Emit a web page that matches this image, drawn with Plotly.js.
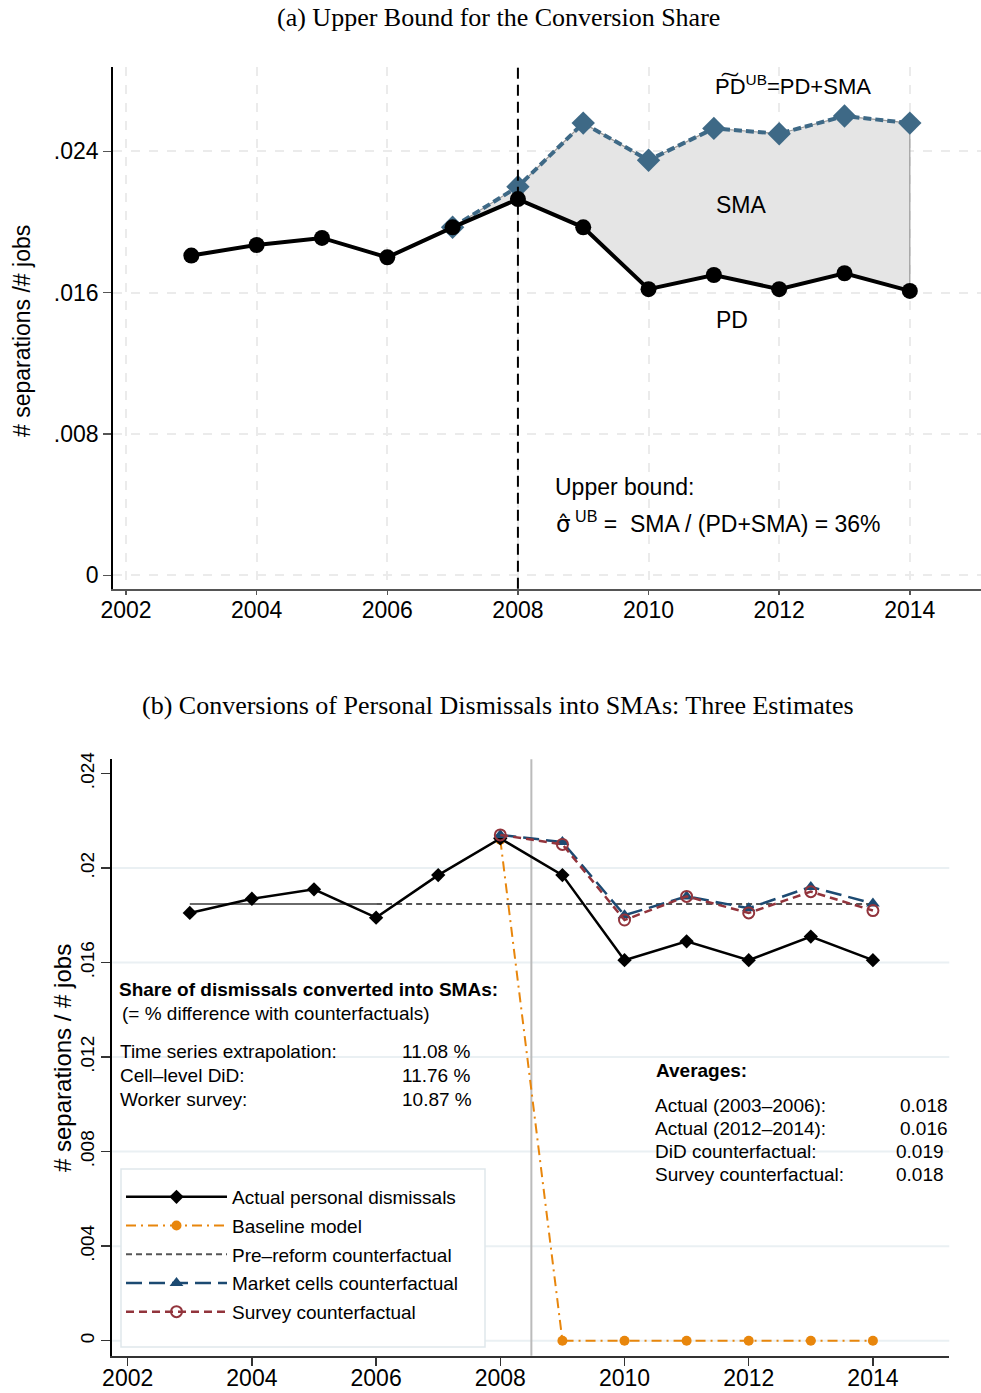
<!DOCTYPE html>
<html>
<head>
<meta charset="utf-8">
<script src="https://cdn.plot.ly/plotly-3.0.1.min.js"></script>
<style>html,body{margin:0;padding:0;background:#fff}#chart{width:981px;height:1393px}</style>
</head>
<body>
<div id="chart"></div>
<script>
// ---------- Panel (a) data ----------
const years = [2003, 2004, 2005, 2006, 2007, 2008, 2009, 2010, 2011, 2012, 2013, 2014];
const pdRate = [0.0181, 0.0187, 0.0191, 0.0180, 0.0197, 0.0213, 0.0197, 0.0162, 0.0170, 0.0162, 0.0171, 0.0161];
const ubYears = [2007, 2008, 2009, 2010, 2011, 2012, 2013, 2014];
const pdUB = [0.0197, 0.0220, 0.0256, 0.0235, 0.0253, 0.0250, 0.0260, 0.0256];
const topYTicks = [0, 0.008, 0.016, 0.024];
const topYLabels = ['0', '.008', '.016', '.024'];
const xTicks = [2002, 2004, 2006, 2008, 2010, 2012, 2014];
const reformYearA = 2008;

// ---------- Panel (b) data ----------
const actualPD = [0.0181, 0.0187, 0.0191, 0.0179, 0.0197, 0.02125, 0.0197, 0.0161, 0.0169, 0.0161, 0.0171, 0.0161];
const cfYears = [2008, 2009, 2010, 2011, 2012, 2013, 2014];
const baseline = [0.0212, 0, 0, 0, 0, 0, 0];
const marketCF = [0.0214, 0.0211, 0.0180, 0.0188, 0.0183, 0.0192, 0.0185];
const surveyCF = [0.0214, 0.0210, 0.0178, 0.0188, 0.0181, 0.0190, 0.0182];
const preReformLevel = 0.01848;
const preSolidYears = [2003, 2006];
const preDashYears = [2006, 2014];
const botYTicks = [0, 0.004, 0.008, 0.012, 0.016, 0.02, 0.024];
const botYLabels = ['0', '.004', '.008', '.012', '.016', '.02', '.024'];
const reformLineB = 2008.5;

const shareLabels = ['Time series extrapolation:', 'Cell\u2013level DiD:', 'Worker survey:'];
const shareValues = ['11.08 %', '11.76 %', '10.87 %'];
const avgLabels = ['Actual (2003\u20132006):', 'Actual (2012\u20132014):', 'DiD counterfactual:', 'Survey counterfactual:'];
const avgValues = ['0.018', '0.016', '0.019', '0.018'];

const W = 981, H = 1393;
const px = v => v / W;
const py = v => 1 - v / H;
const SANS = 'Liberation Sans, Arial, sans-serif';
const SERIF = 'Liberation Serif, Times New Roman, serif';

// fill polygon between PD and UB (2007-2014)
const pdSeg = years.map((y, i) => [y, pdRate[i]]).filter(d => d[0] >= ubYears[0]);
const polyX = ubYears.concat(pdSeg.map(d => d[0]).reverse());
const polyY = pdUB.concat(pdSeg.map(d => d[1]).reverse());

const traces = [
  { x: polyX, y: polyY, xaxis: 'x', yaxis: 'y', mode: 'lines', fill: 'toself',
    fillcolor: '#e5e5e5', line: { color: '#9a9a9a', width: 1.2 }, showlegend: false, hoverinfo: 'skip' },
  { x: ubYears, y: pdUB, xaxis: 'x', yaxis: 'y', mode: 'lines+markers',
    line: { color: '#3e6986', width: 4, dash: '8px,4px' },
    marker: { symbol: 'diamond', size: 18, color: '#3e6986' }, showlegend: false },
  { x: years, y: pdRate, xaxis: 'x', yaxis: 'y', mode: 'lines+markers',
    line: { color: '#000', width: 4 },
    marker: { symbol: 'circle', size: 16, color: '#000' }, showlegend: false },

  // panel b
  { x: preSolidYears, y: preSolidYears.map(() => preReformLevel), xaxis: 'x2', yaxis: 'y2', mode: 'lines',
    line: { color: '#6a6a6a', width: 2 }, showlegend: false },
  { x: preDashYears, y: preDashYears.map(() => preReformLevel), xaxis: 'x2', yaxis: 'y2', mode: 'lines',
    name: 'Pre\u2013reform counterfactual', legendrank: 3, legendgroup: 'g3',
    line: { color: '#555', width: 2, dash: '6px,4px' } },
  { x: cfYears, y: baseline, xaxis: 'x2', yaxis: 'y2', mode: 'lines+markers',
    name: 'Baseline model', legendrank: 2, legendgroup: 'g2',
    line: { color: '#e8860c', width: 2, dash: '10px,5px,2px,5px' },
    marker: { symbol: 'circle', size: 10, color: '#e8860c' } },
  { x: years, y: actualPD, xaxis: 'x2', yaxis: 'y2', mode: 'lines+markers',
    name: 'Actual personal dismissals', legendrank: 1, legendgroup: 'g1',
    line: { color: '#000', width: 2.5 },
    marker: { symbol: 'diamond', size: 11, color: '#000' } },
  { x: cfYears, y: marketCF, xaxis: 'x2', yaxis: 'y2', mode: 'lines+markers',
    name: 'Market cells counterfactual', legendrank: 4, legendgroup: 'g4',
    line: { color: '#1c4a72', width: 2.5, dash: '16px,7px' },
    marker: { symbol: 'triangle-up', size: 12, color: '#1c4a72' } },
  { x: cfYears, y: surveyCF, xaxis: 'x2', yaxis: 'y2', mode: 'lines+markers',
    name: 'Survey counterfactual', legendrank: 5, legendgroup: 'g5',
    line: { color: '#92343c', width: 2.5, dash: '8px,5px' },
    marker: { symbol: 'circle-open', size: 11, color: '#92343c', line: { width: 2, color: '#92343c' } } }
];

const ann = [];
function txt(text, x, y, size, opts) {
  ann.push(Object.assign({ text: text, xref: 'paper', yref: 'paper', x: px(x), y: py(y),
    xanchor: 'left', yanchor: 'middle', showarrow: false,
    font: { family: SANS, size: size, color: '#000' } }, opts || {}));
}
// titles
txt('(a) Upper Bound for the Conversion Share', 498, 17, 26, { xanchor: 'center', font: { family: SERIF, size: 26, color: '#000' } });
txt('(b) Conversions of Personal Dismissals into SMAs: Three Estimates', 498, 705, 26, { xanchor: 'center', font: { family: SERIF, size: 26, color: '#000' } });
// y titles
txt('# separations /# jobs', 22, 331, 23, { xanchor: 'center', textangle: -90 });
txt('# separations / # jobs', 62, 1058, 24, { xanchor: 'center', textangle: -90 });
// panel a labels
txt('P\u0360D<sup>UB</sup>=PD+SMA', 713, 85, 22);
txt('SMA', 714, 205, 23);
txt('PD', 714, 320, 23);
txt('Upper bound:', 553, 487, 23);
txt('<span style="font-family:DejaVu Sans">\u03c3\u0302</span><sup> UB</sup> =  SMA / (PD+SMA) = 36%', 554, 522, 23);
// panel b labels
txt('<b>Share of dismissals converted into SMAs:</b>', 117, 989, 19);
txt('(= % difference with counterfactuals)', 120, 1013, 19);
shareLabels.forEach((s, i) => txt(s, 118, 1051 + 24 * i, 19));
shareValues.forEach((s, i) => txt(s, 400, 1051 + 24 * i, 19));
txt('<b>Averages:</b>', 654, 1070, 19);
avgLabels.forEach((s, i) => txt(s, 653, 1105 + 23.3 * i, 19));
avgValues.forEach((s, i) => txt(s, i < 2 ? 950 : 946, 1105 + 23.3 * i, 19, { xanchor: 'right' }));

// panel b gridlines (none at the top tick)
const gridShapes = botYTicks.slice(0, -1).map(v => ({
  type: 'line', xref: 'x2 domain', yref: 'y2', x0: 0, x1: 1, y0: v, y1: v,
  line: { color: '#eaf0f3', width: 2 }, layer: 'below'
}));

const layout = {
  width: W, height: H,
  margin: { l: 0, r: 0, t: 0, b: 0 },
  paper_bgcolor: '#fff', plot_bgcolor: '#fff',
  font: { family: SANS, color: '#000' },
  showlegend: true,
  legend: {
    x: px(121), y: py(1178), xanchor: 'left', yanchor: 'top',
    bgcolor: 'rgba(0,0,0,0)', borderwidth: 0,
    font: { family: SANS, size: 19, color: '#000' },
    itemwidth: 101, tracegroupgap: 1
  },
  xaxis: {
    domain: [px(112.7), 1], anchor: 'y', range: [2001.796, 2015.09],
    tickvals: xTicks, ticktext: xTicks.map(String),
    showline: true, linecolor: '#555', linewidth: 2,
    ticks: 'outside', ticklen: 4, tickcolor: '#555', tickwidth: 1.5, ticklabelstandoff: -4,
    showgrid: true, gridcolor: '#ebebeb', gridwidth: 2, griddash: 'dash',
    zeroline: false, tickfont: { family: SANS, size: 23, color: '#000' }
  },
  yaxis: {
    domain: [py(588.7), py(67.3)], anchor: 'x', range: [-0.00076, 0.02876],
    tickvals: topYTicks, ticktext: topYLabels,
    showline: true, linecolor: '#000', linewidth: 1.5,
    ticks: 'outside', ticklen: 8, tickcolor: '#555', tickwidth: 1.5,
    showgrid: true, gridcolor: '#ebebeb', gridwidth: 2, griddash: 'dash',
    zeroline: false, tickfont: { family: SANS, size: 23, color: '#000' }
  },
  xaxis2: {
    domain: [px(112.3), px(949.3)], anchor: 'y2', range: [2001.752, 2015.23],
    tickvals: xTicks, ticktext: xTicks.map(String),
    showline: true, linecolor: '#333', linewidth: 2,
    ticks: 'outside', ticklen: 8, tickcolor: '#333', tickwidth: 1.5, ticklabelstandoff: -7,
    showgrid: false, zeroline: false, tickfont: { family: SANS, size: 23, color: '#000' }
  },
  yaxis2: {
    domain: [py(1355.7), py(759.3)], anchor: 'x2', range: [-0.000635, 0.0246],
    tickvals: botYTicks, ticktext: botYLabels, tickangle: -90,
    showline: true, linecolor: '#000', linewidth: 2,
    ticks: 'outside', ticklen: 9, tickcolor: '#333', tickwidth: 1.5,
    showgrid: false, zeroline: false, tickfont: { family: SANS, size: 19, color: '#000' }
  },
  shapes: gridShapes.concat([
    { type: 'line', xref: 'x', yref: 'y domain', x0: reformYearA, x1: reformYearA, y0: 0, y1: 1,
      line: { color: '#000', width: 2, dash: '11px,6px' } },
    { type: 'line', xref: 'x2', yref: 'y2 domain', x0: reformLineB, x1: reformLineB, y0: 0, y1: 1,
      line: { color: '#bbb', width: 2 }, layer: 'below' },
    { type: 'rect', xref: 'paper', yref: 'paper', x0: px(121), x1: px(485), y0: py(1347), y1: py(1169),
      fillcolor: '#fff', line: { color: '#dfe7eb', width: 1.5 }, layer: 'above' }
  ]),
  annotations: ann
};

Plotly.newPlot('chart', traces, layout, { staticPlot: true, displayModeBar: false });
</script>
</body>
</html>
